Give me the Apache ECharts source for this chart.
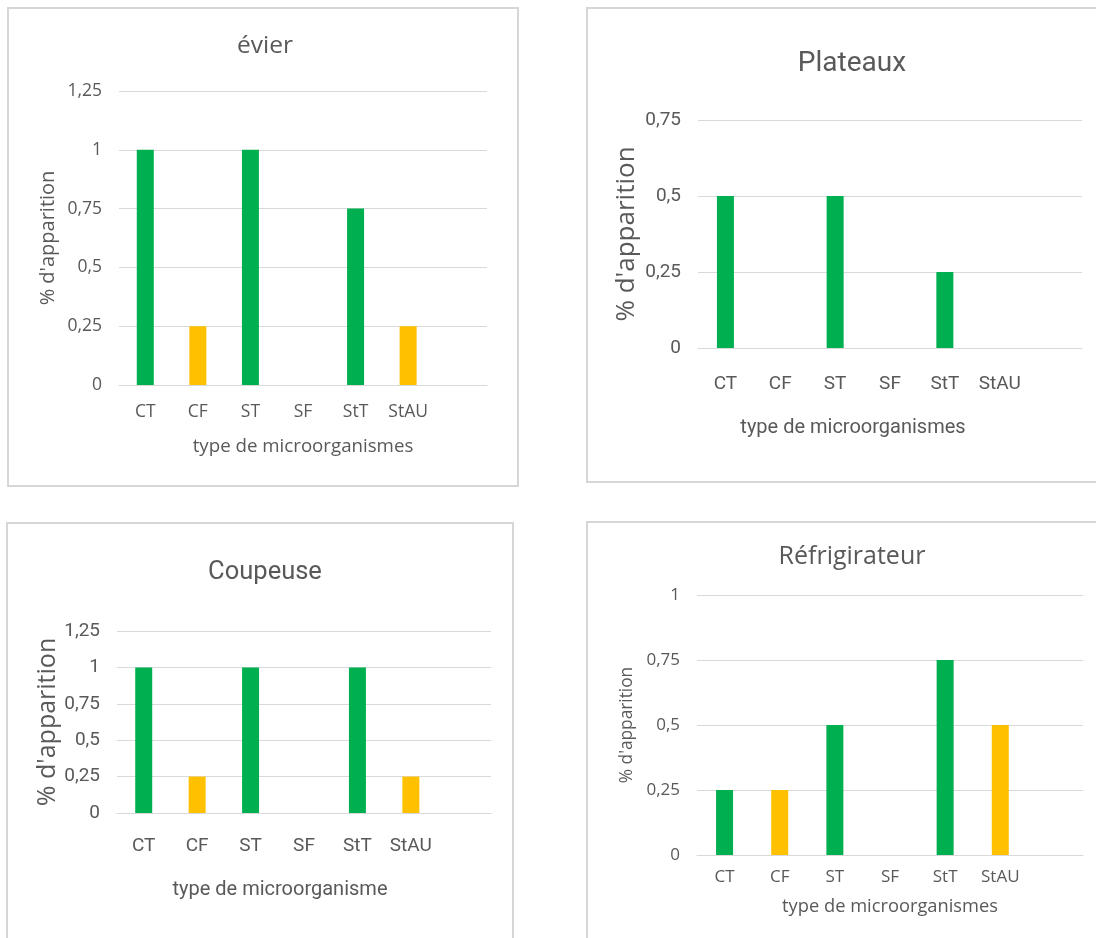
<!DOCTYPE html>
<html>
<head>
<meta charset="utf-8">
<script src="https://cdn.jsdelivr.net/npm/echarts@6/dist/echarts.min.js"></script>
<style>
  html, body { margin: 0; padding: 0; background: #fff; }
  #chart { width: 1096px; height: 938px; }
</style>
</head>
<body>
<div id="chart"></div>
<script>
// catégories (la 7e case reste vide comme dans le graphique Excel)
const categories = ['CT', 'CF', 'ST', 'SF', 'StT', 'StAU', '']
const yellowCats = ['CF', 'StAU']

const evier = [1, 0.25, 1, 0, 0.75, 0.25]
const plateaux = [0.5, 0, 0.5, 0, 0.25, 0]
const coupeuse = [1, 0.25, 1, 0, 1, 0.25]
const refrigirateur = [0.25, 0.25, 0.5, 0, 0.75, 0.5]

const titles = ['évier', 'Plateaux', 'Coupeuse', 'Réfrigirateur']
const xNames = ['type de microorganismes', 'type de microorganismes', 'type de microorganisme', 'type de microorganismes']
const yName = "% d'apparition"
const yMax = [1.25, 0.75, 1.25, 1]

const GREEN = '#00B050'
const YELLOW = '#FFC000'
const TEXT = '#595959'
const LINE = '#d9d9d9'
const WIDE = "'Open Sans', 'Noto Sans', sans-serif"
const NARROW = "'Liberation Sans Narrow', Roboto, sans-serif"

// mise en page de chaque panneau
const panels = [
  { grid: { left: 119, top: 91, width: 368, height: 294 }, box: [8, 8, 510, 478],
    title: [260, 29, 24.5, WIDE], font: WIDE, tick: 17.5, lblMargin: 18, name: 18.7, nameGap: 52, namePad: 0, yFont: 20, yGap: 61 },
  { grid: { left: 698, top: 120, width: 384, height: 228 }, box: [587, 8, 530, 474],
    title: [847, 45, 28, NARROW], font: NARROW, tick: 19, lblMargin: 27, name: 20, nameGap: 70, namePad: 74, yFont: 26, yGap: 58 },
  { grid: { left: 117, top: 631, width: 374, height: 182 }, box: [7, 523, 506, 500],
    title: [260, 555, 25.5, NARROW], font: NARROW, tick: 19, lblMargin: 24, name: 20, nameGap: 67, namePad: 48, yFont: 25, yGap: 57 },
  { grid: { left: 697, top: 595, width: 386, height: 260 }, box: [587, 522, 530, 500],
    title: [847, 539, 25, WIDE], font: WIDE, tick: 17, lblMargin: 14, name: 18.3, nameGap: 43, namePad: 0, yFont: 17.3, yGap: 61 }
]
const datasets = [evier, plateaux, coupeuse, refrigirateur]

const chart = echarts.init(document.getElementById('chart'))

const option = {
  animation: false,
  title: panels.map((p, i) => ({
    text: titles[i],
    left: p.title[0],
    top: p.title[1],
    textAlign: 'center',
    textStyle: { color: TEXT, fontSize: p.title[2], fontWeight: 'normal', fontFamily: p.title[3] }
  })),
  graphic: panels.map(p => ({
    type: 'rect',
    shape: { x: p.box[0], y: p.box[1], width: p.box[2], height: p.box[3] },
    style: { fill: 'none', stroke: '#d6d6d6', lineWidth: 2 },
    silent: true
  })),
  grid: panels.map(p => p.grid),
  xAxis: panels.map((p, i) => ({
    type: 'category',
    gridIndex: i,
    data: categories,
    name: xNames[i],
    nameLocation: 'middle',
    nameGap: p.nameGap,
    nameTextStyle: { color: TEXT, fontSize: p.name, fontFamily: p.font, padding: [0, p.namePad, 0, 0] },
    axisLine: { lineStyle: { color: LINE, width: 1 } },
    axisTick: { show: false },
    axisLabel: { color: TEXT, fontSize: p.tick, fontFamily: p.font, margin: p.lblMargin, interval: 0 }
  })),
  yAxis: panels.map((p, i) => ({
    type: 'value',
    gridIndex: i,
    min: 0,
    max: yMax[i],
    interval: 0.25,
    name: yName,
    nameLocation: 'middle',
    nameRotate: 90,
    nameGap: p.yGap,
    nameTextStyle: { color: TEXT, fontSize: p.yFont, fontFamily: WIDE },
    axisLine: { show: false },
    axisTick: { show: false },
    splitLine: { lineStyle: { color: LINE, width: 1 } },
    axisLabel: {
      color: TEXT, fontSize: p.tick, fontFamily: p.font, margin: 17,
      formatter: v => String(v).replace('.', ',')
    }
  })),
  series: datasets.map((d, i) => ({
    type: 'bar',
    xAxisIndex: i,
    yAxisIndex: i,
    data: d,
    barWidth: 17,
    itemStyle: {
      color: params => yellowCats.includes(params.name) ? YELLOW : GREEN
    }
  }))
}

chart.setOption(option)
</script>
</body>
</html>
